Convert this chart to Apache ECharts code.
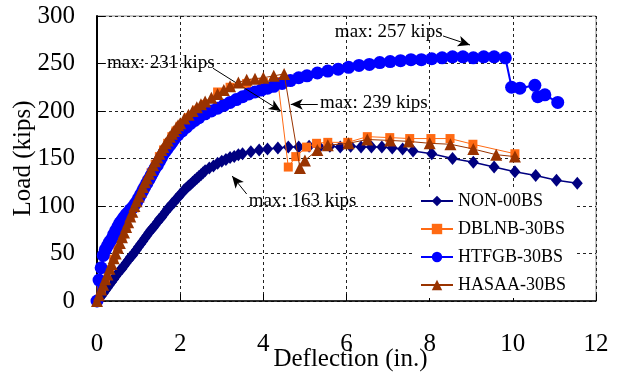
<!DOCTYPE html>
<html><head><meta charset="utf-8">
<script src="https://cdn.jsdelivr.net/npm/echarts@6/dist/echarts.min.js"></script>
<style>html,body{margin:0;padding:0;background:#fff}#c{width:619px;height:373px}</style>
</head><body><div id="c"></div>
<script>
const xTicks = [0, 2, 4, 6, 8, 10, 12];
const yTicks = [0, 50, 100, 150, 200, 250, 300];

const nonData = [[0,0],[0.05,2.5],[0.1,5],[0.15,8],[0.2,11],[0.25,14],[0.3,17],[0.35,20],[0.4,23],[0.45,26],[0.5,29],[0.55,32],[0.6,34],[0.65,37],[0.7,40],[0.75,43],[0.8,46],[0.85,48],[0.9,51],[0.95,54],[1.0,57],[1.05,60],[1.1,63],[1.15,66],[1.2,69],[1.25,72],[1.3,75],[1.35,77],[1.4,80],[1.45,83],[1.5,86],[1.55,88],[1.6,91],[1.65,94],[1.7,97],[1.75,99],[1.8,102],[1.85,104],[1.9,107],[1.95,109],[2.0,112],[2.05,114],[2.1,117],[2.15,119],[2.2,121],[2.25,123],[2.3,125],[2.35,127],[2.4,129],[2.45,131],[2.5,133],[2.55,135],[2.6,137],[2.7,140],[2.8,142],[2.9,145],[3.0,147],[3.1,149],[3.2,151],[3.3,152],[3.4,154],[3.5,155],[3.7,157],[3.9,159],[4.1,160],[4.35,161],[4.6,162],[4.85,162],[5.1,163],[5.35,162],[5.6,163],[5.85,162],[6.1,163],[6.35,162],[6.6,162],[6.85,162],[7.1,161],[7.35,160],[7.6,158],[8.05,155],[8.55,150],[9.05,146],[9.55,141],[10.05,136],[10.55,132],[11.05,127],[11.55,124]];

const dblData = [[0,0],[0.1,11],[0.2,22],[0.3,33],[0.4,44],[0.5,55],[0.6,66],[0.7,77],[0.8,88],[0.9,98],[1.0,108],[1.1,117],[1.2,126],[1.3,135],[1.4,144],[1.5,152],[1.6,159],[1.7,166],[1.8,173],[1.9,179],[2.0,184],[2.2,193],[2.4,201],[2.6,207],[2.9,220],[3.2,225],[3.6,229],[4.0,230],[4.35,231],[4.6,141],[4.78,152],[5.04,162],[5.28,166],[5.55,167],[6.03,167],[6.5,173],[7.04,172],[7.52,171],[8.03,171],[8.49,171],[9.04,165],[10.05,155]];

const htfData = [[0,0],[0.05,22],[0.1,35],[0.15,48],[0.2,54],[0.25,58],[0.3,62],[0.35,65],[0.4,70],[0.45,74],[0.5,78],[0.55,82],[0.6,85],[0.65,88],[0.7,91],[0.75,93],[0.8,96],[0.85,98],[0.9,101],[0.95,104],[1.0,108],[1.05,112],[1.1,116],[1.15,120],[1.2,124],[1.25,128],[1.3,132],[1.35,136],[1.4,140],[1.45,143],[1.5,147],[1.55,151],[1.6,155],[1.65,158],[1.7,161],[1.75,164],[1.8,167],[1.85,170],[1.9,173],[1.95,175],[2.05,179],[2.15,183],[2.25,187],[2.35,190],[2.45,193],[2.6,197],[2.75,200],[2.9,203],[3.05,206],[3.2,209],[3.35,212],[3.5,215],[3.65,218],[3.8,220],[3.95,222],[4.1,224],[4.25,226],[4.45,229],[4.65,232],[4.85,235],[5.05,237],[5.3,240],[5.55,242],[5.8,244],[6.05,246],[6.3,248],[6.55,249],[6.8,251],[7.05,252],[7.3,253],[7.55,254],[7.8,254],[8.05,255],[8.3,256],[8.55,257],[8.8,257],[9.05,256],[9.3,257],[9.55,257],[9.82,256],[9.97,225],[10.17,224],[10.53,227],[10.6,215],[10.77,217],[11.08,209]];

const hasData = [[0,0],[0.05,6],[0.1,12],[0.15,17],[0.2,23],[0.25,28],[0.3,34],[0.35,39],[0.4,45],[0.45,50],[0.5,56],[0.55,61],[0.6,67],[0.65,72],[0.7,78],[0.75,83],[0.8,89],[0.85,94],[0.9,100],[0.95,105],[1.0,110],[1.05,115],[1.1,120],[1.15,125],[1.2,129],[1.25,134],[1.3,138],[1.35,143],[1.4,147],[1.45,151],[1.5,155],[1.55,159],[1.6,162],[1.65,166],[1.7,169],[1.75,173],[1.8,176],[1.85,179],[1.9,182],[1.95,185],[2.0,187],[2.1,192],[2.2,196],[2.3,200],[2.4,204],[2.5,207],[2.6,210],[2.75,214],[2.9,218],[3.05,222],[3.2,226],[3.4,230],[3.6,233],[3.8,234],[4.0,235],[4.25,237],[4.5,239],[4.88,140],[5.0,148],[5.3,159],[5.55,164],[6.05,166],[6.5,170],[7.05,169],[7.5,168],[8.0,166],[8.5,165],[9.05,160],[9.6,154],[10.05,152]];

const seriesNames = ['NON-00BS', 'DBLNB-30BS', 'HTFGB-30BS', 'HASAA-30BS'];

// annotations in data coordinates: text anchor (left, middle) and arrow from -> to
const annoTexts = ['max: 257 kips', 'max: 239 kips', 'max: 231 kips', 'max: 163 kips'];
const annoTextPos = [[5.72, 283], [5.36, 208], [0.24, 250.5], [3.65, 105]];
const annoArrowFrom = [[8.32, 279], [5.31, 207], [2.79, 245], [3.6, 112.6]];
const annoArrowTo = [[8.97, 269.5], [4.66, 207], [4.42, 200], [3.25, 131.6]];

const FONT = 'Liberation Serif';
const chart = echarts.init(document.getElementById('c'), null, {renderer: 'canvas'});

function mk(name, data, color, symbol, size, lw, z) {
  return {
    name, type: 'line', data, symbol, symbolSize: size, z,
    lineStyle: {color, width: lw}, itemStyle: {color},
    animation: false, clip: false
  };
}

const arrowLines = annoArrowFrom.map((f, i) => [
  {coord: f, symbol: 'none'},
  {coord: annoArrowTo[i], symbol: 'arrow'}
]);

const s0 = mk(seriesNames[0], nonData, '#000080', 'diamond', [11, 13], 1.5, 2);
const s1 = mk(seriesNames[1], dblData, '#FF6A13', 'rect', 9, 1, 3);
const s2 = mk(seriesNames[2], htfData, '#0000FF', 'circle', 13, 2, 4);
const s3 = mk(seriesNames[3], hasData, '#993300', 'triangle', 12, 1, 5);
s3.markLine = {
  silent: true, animation: false, symbolSize: [8, 12],
  lineStyle: {color: '#000', width: 1, type: 'solid'},
  label: {show: false},
  data: arrowLines
};

chart.setOption({
  backgroundColor: '#fff',
  animation: false,
  grid: {left: 97, right: 23, top: 16, bottom: 72, show: true, borderColor: '#8a8a8a', borderWidth: 1,
    containLabel: false, outerBoundsMode: 'none'},
  xAxis: {
    type: 'value', min: 0, max: 12, interval: 2,
    name: 'Deflection (in.)', nameLocation: 'middle', nameGap: 46, nameMoveOverlap: false,
    nameTextStyle: {fontFamily: FONT, fontSize: 25, color: '#000', padding: [0, 0, 0, 8]},
    axisLine: {show: true, lineStyle: {color: '#000', width: 1.5}},
    axisTick: {show: true, inside: true, length: 7, lineStyle: {color: '#000'}},
    axisLabel: {fontFamily: FONT, fontSize: 25, color: '#000', margin: 31,
      formatter: v => xTicks.includes(v) ? String(v) : ''},
    splitLine: {show: true, lineStyle: {color: '#222', width: 1, type: [3, 3]}}
  },
  yAxis: {
    type: 'value', min: 0, max: 300, interval: 50,
    name: 'Load (kips)', nameLocation: 'middle', nameGap: 61, nameMoveOverlap: false,
    nameTextStyle: {fontFamily: FONT, fontSize: 25, color: '#000'},
    axisLine: {show: true, lineStyle: {color: '#000', width: 2}},
    axisTick: {show: true, inside: true, length: 8, lineStyle: {color: '#000'}},
    axisLabel: {fontFamily: FONT, fontSize: 25, color: '#000', margin: 22,
      formatter: v => yTicks.includes(v) ? String(v) : ''},
    splitLine: {show: true, lineStyle: {color: '#222', width: 1, type: [3, 3]}}
  },
  legend: {
    data: seriesNames, orient: 'vertical', left: 413, top: 188,
    itemWidth: 32, itemHeight: 13, itemGap: 10,
    padding: [4, 10, 4, 7], backgroundColor: '#fff',
    textStyle: {fontFamily: FONT, fontSize: 18, color: '#000'},
    z: 20
  },
  series: [s0, s1, s2, s3]
});

const graphics = annoTexts.map((t, i) => {
  const p = chart.convertToPixel({gridIndex: 0}, annoTextPos[i]);
  return {
    type: 'text', x: p[0], y: p[1], z: 100,
    style: {text: t, font: '19px "Liberation Serif"', fill: '#000', verticalAlign: 'middle'}
  };
});
chart.setOption({graphic: graphics});
</script></body></html>
